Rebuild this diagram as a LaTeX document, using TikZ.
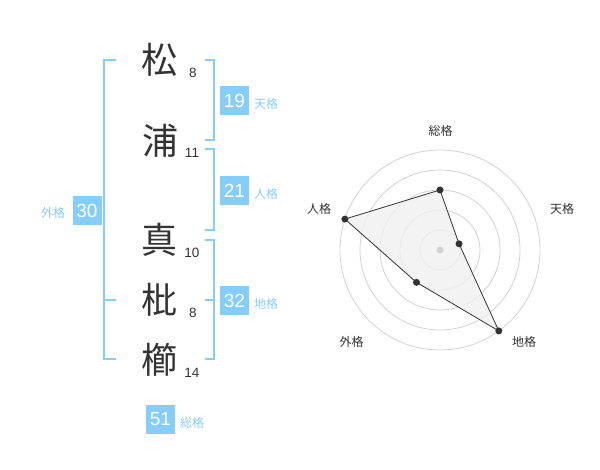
\documentclass[tikz,border=0pt]{standalone}
\usepackage{fontspec}
\setmainfont{Liberation Sans}
\newfontfamily\jp{Noto Sans CJK JP}
\definecolor{boxblue}{RGB}{133,206,252}
\definecolor{lblblue}{RGB}{140,205,245}
\definecolor{ink}{RGB}{51,51,51}
\definecolor{ringgray}{RGB}{210,210,210}
\definecolor{areafill}{RGB}{240,240,240}
\tikzset{
  kanji/.style={font=\jp\fontsize{36}{36}\selectfont, text=ink, inner sep=0pt},
  strokes/.style={font=\fontsize{13.5}{14}\selectfont, text=ink, inner sep=0pt},
  valbox/.style={fill=boxblue, text=white, minimum width=29pt, minimum height=29pt, inner sep=0pt, font=\fontsize{19}{19}\selectfont},
  vallbl/.style={text=lblblue, font=\jp\fontsize{12}{12}\selectfont, inner sep=0pt},
  brk/.style={draw=boxblue, line width=2pt},
  axlbl/.style={text=ink, font=\jp\fontsize{12}{12}\selectfont, inner sep=0pt},
  ring/.style={draw=ringgray, line width=0.8pt},
  dot/.style={circle, fill=ink, minimum size=7pt, inner sep=0pt},
}
\begin{document}
\begin{tikzpicture}[x=1pt,y=1pt]
\useasboundingbox[fill=white] (0,0) rectangle (600,-470);
% kanji
\node[kanji] (k1) at (159,-60) {松};
\node[kanji] (k2) at (160,-141) {浦};
\node[kanji] (k3) at (159,-240) {真};
\node[kanji] (k4) at (159,-300) {枇};
\node[kanji] (k5) at (159,-360) {櫛};
\node[strokes] (s1) at (193,-72.5) {8};
\node[strokes] (s2) at (192,-152.5) {11};
\node[strokes] (s3) at (192,-253) {10};
\node[strokes] (s4) at (193,-313) {8};
\node[strokes] (s5) at (192,-373) {14};
% left bracket (gaikaku)
\coordinate (la) at (116,-60);
\coordinate (lb) at (116,-300);
\coordinate (lc) at (116,-359);
\draw[brk] (la) -- (104,-60) -- (104,-359) -- (lc);
\draw[brk] (104,-300) -- (lb);
\node[valbox] (b30) at (87,-211) {30};
\node[vallbl] (l30) at (53,-213) {外格};
% right brackets
\coordinate (r1a) at (205,-60);
\coordinate (r1b) at (205,-140);
\draw[brk] (r1a) -- (214,-60) -- (214,-140) -- (r1b);
\coordinate (r2a) at (205,-149);
\coordinate (r2b) at (205,-230);
\draw[brk] (r2a) -- (214,-149) -- (214,-230) -- (r2b);
\coordinate (r3a) at (205,-240);
\coordinate (r3b) at (205,-359);
\coordinate (r3m) at (205,-300);
\draw[brk] (r3a) -- (214,-240) -- (214,-359) -- (r3b);
\draw[brk] (214,-300) -- (r3m);
\node[valbox] (b19) at (234.5,-100.5) {19};
\node[vallbl] (l19) at (266,-104) {天格};
\node[valbox] (b21) at (234.5,-190.5) {21};
\node[vallbl] (l21) at (266,-194) {人格};
\node[valbox] (b32) at (234.5,-300.5) {32};
\node[vallbl] (l32) at (266,-304) {地格};
\node[valbox] (b51) at (160.5,-419) {51};
\node[vallbl] (l51) at (192,-423) {総格};
% radar
\begin{scope}[shift={(440,-250)}]
\foreach \r in {20,40,60,80,100} \draw[ring] (0,0) circle (\r);
\coordinate (pS) at (90:60);
\coordinate (pT) at (18:20);
\coordinate (pC) at (-54:100);
\coordinate (pG) at (-126:40);
\coordinate (pJ) at (162:100);
\fill[areafill, opacity=0.8] (pS) -- (pT) -- (pC) -- (pG) -- (pJ) -- cycle;
\draw[ink, line width=0.8pt] (pS) -- (pT) -- (pC) -- (pG) -- (pJ) -- cycle;
\node[circle, fill=ringgray, minimum size=7pt, inner sep=0pt] (ctr) at (0,0) {};
\foreach \p in {pS,pT,pC,pG,pJ} \node[dot] at (\p) {};
\end{scope}
\node[axlbl] (aS) at (440.7,-130.7) {総格};
\node[axlbl] (aT) at (562,-208.7) {天格};
\node[axlbl] (aJ) at (319,-208.7) {人格};
\node[axlbl] (aG) at (351.7,-341.7) {外格};
\node[axlbl] (aC) at (524,-341.7) {地格};
\end{tikzpicture}
\end{document}
